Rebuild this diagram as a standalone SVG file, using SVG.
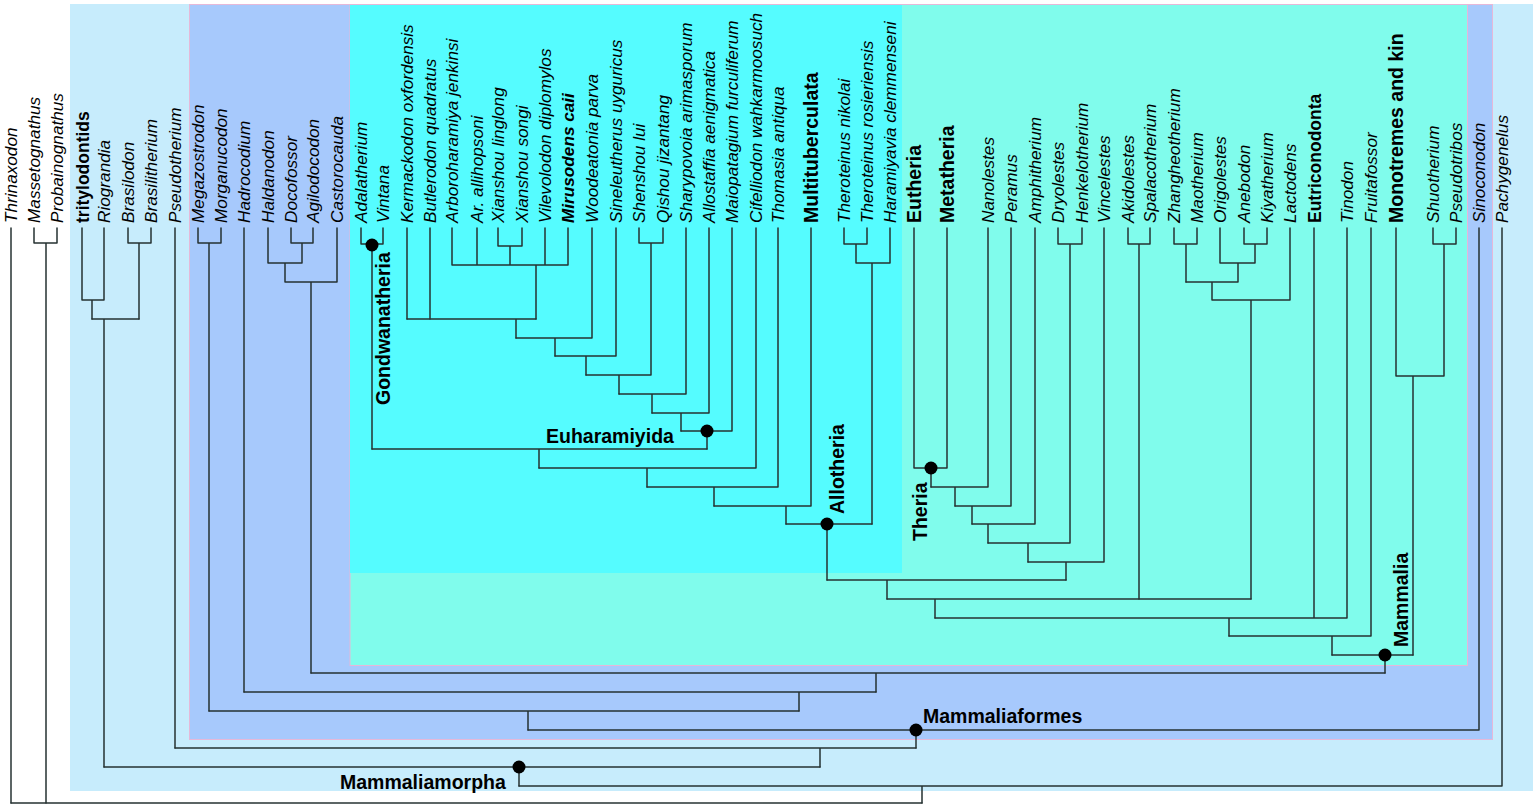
<svg xmlns="http://www.w3.org/2000/svg" width="1537" height="809" viewBox="0 0 1537 809">
<style>
text{font-family:"Liberation Sans",Arial,sans-serif;fill:#000}
.t{font-size:17.2px;font-style:italic}
.tb{font-size:17.5px;font-weight:bold}
.tB{font-size:19.5px;font-weight:bold}
.tbi{font-size:17.2px;font-weight:bold;font-style:italic}
.cl{font-size:19.5px;font-weight:bold}
.ln{fill:none;stroke:#263232;stroke-width:1.5;stroke-linejoin:round;stroke-linecap:round}
.dot{fill:#000}
</style>
<rect width="1537" height="809" fill="#ffffff"/>
<g id="backgrounds">
<rect id="bg-mammaliamorpha" x="70" y="4" width="1463" height="787" fill="#C7ECFC"/>
<rect id="bg-mammaliaformes" x="189.5" y="4.5" width="1303" height="735" fill="#A7C9FC" stroke="#E6B8D8" stroke-width="1"/>
<rect id="bg-mammalia" x="350" y="4.5" width="1117.5" height="661" fill="#80FCEC" stroke="#E6B8D8" stroke-width="1"/>
<rect id="bg-allotheria" x="350" y="5" width="552" height="568" fill="#55FCFF"/>
</g>
<g id="connectors" class="ln">
<path d="M11 228V803"/>
<path d="M34 228V243H57V228M46 243V803"/>
<path d="M82 228V300H104V228M92 300V319"/>
<path d="M128 228V243H151V228M139 243V319"/>
<path d="M92 319H139M104 319V767"/>
<path d="M175 228V748"/>
<path d="M198 228V243H221V228M209 243V711"/>
<path d="M244 228V692"/>
<path d="M268 228V263M291 228V243H313V228M302 243V263M268 263H302M285 263V282M337 228V282M285 282H337M311 282V673"/>
<path d="M361 228V244H383V228M372 244V449"/>
<path d="M407 228V319M430 228V319"/>
<path d="M452 228V265M477 228V265M498 228V246H522V228M510 246V265M545 228V265M568 228V265M452 265H568M536 265V319"/>
<path d="M407 319H536M516 319V338"/>
<path d="M592 228V338M516 338H592M555 338V356"/>
<path d="M616 228V356M555 356H616M586 356V375"/>
<path d="M639 228V243H663V228M651 243V375M586 375H651M619 375V394"/>
<path d="M686 228V394M619 394H686M652 394V413"/>
<path d="M709 228V413M652 413H709M681 413V431"/>
<path d="M732 228V431M681 431H732M707 431V449"/>
<path d="M372 449H707M539 449V468"/>
<path d="M756 228V468M539 468H756M647 468V487"/>
<path d="M778 228V487M647 487H778M714 487V506"/>
<path d="M811 228V506M714 506H811M786 506V524"/>
<path d="M844 228V244H867V228M856 244V263M890 228V263M856 263H890M872 263V524"/>
<path d="M786 524H872M827 524V580"/>
<path d="M914 228V468M947 228V468M914 468H947M931 468V487"/>
<path d="M988 228V487M931 487H988M955 487V506"/>
<path d="M1011 228V506M955 506H1011M972 506V524"/>
<path d="M1035 228V524M972 524H1035M988 524V543"/>
<path d="M1058 228V244H1082V228M1070 244V543M988 543H1070M1028 543V562"/>
<path d="M1104 228V562M1028 562H1104M1066 562V580"/>
<path d="M827 580H1066M887 580V599"/>
<path d="M1128 228V244H1150V228M1139 244V599"/>
<path d="M1174 228V244H1197V228M1186 244V282"/>
<path d="M1220 228V263M1244 228V244H1267V228M1255 244V263M1220 263H1255M1238 263V282M1186 282H1238M1212 282V300M1290 228V300M1212 300H1290M1251 300V599"/>
<path d="M887 599H1251M935 599V618"/>
<path d="M1314 228V618M1347 228V618M935 618H1347M1229 618V636"/>
<path d="M1371 228V636M1229 636H1371M1332 636V655"/>
<path d="M1396 228V376M1433 228V244H1456V228M1444 244V376M1396 376H1444M1413 376V655"/>
<path d="M1332 655H1413M1385 655V673"/>
<path d="M311 673H1385M876 673V692"/>
<path d="M244 692H876M799 692V711"/>
<path d="M209 711H799M528 711V730"/>
<path d="M1479 228V730M528 730H1479M916 730V748"/>
<path d="M175 748H916M820 748V767"/>
<path d="M104 767H820M519 767V786"/>
<path d="M1502 228V786M519 786H1502M922 786V803"/>
<path d="M11 803H922"/>
</g>
<g id="taxa">
<g id="n-thrinaxodon"><text class="t" transform="translate(17,223) rotate(-90)">Thrinaxodon</text></g>
<g id="n-massetognathus"><text class="t" transform="translate(40,223) rotate(-90)">Massetognathus</text></g>
<g id="n-probainognathus"><text class="t" transform="translate(63,223) rotate(-90)">Probainognathus</text></g>
<g id="n-tritylodontids"><text class="tb" transform="translate(89,223) rotate(-90)">tritylodontids</text></g>
<g id="n-riograndia"><text class="t" transform="translate(110,223) rotate(-90)">Riograndia</text></g>
<g id="n-brasilodon"><text class="t" transform="translate(134,223) rotate(-90)">Brasilodon</text></g>
<g id="n-brasilitherium"><text class="t" transform="translate(157,223) rotate(-90)">Brasilitherium</text></g>
<g id="n-pseudotherium"><text class="t" transform="translate(181,223) rotate(-90)">Pseudotherium</text></g>
<g id="n-megazostrodon"><text class="t" transform="translate(204,223) rotate(-90)">Megazostrodon</text></g>
<g id="n-morganucodon"><text class="t" transform="translate(227,223) rotate(-90)">Morganucodon</text></g>
<g id="n-hadrocodium"><text class="t" transform="translate(250,223) rotate(-90)">Hadrocodium</text></g>
<g id="n-haldanodon"><text class="t" transform="translate(274,223) rotate(-90)">Haldanodon</text></g>
<g id="n-docofossor"><text class="t" transform="translate(297,223) rotate(-90)">Docofossor</text></g>
<g id="n-agilodocodon"><text class="t" transform="translate(319,223) rotate(-90)">Agilodocodon</text></g>
<g id="n-castorocauda"><text class="t" transform="translate(343,223) rotate(-90)">Castorocauda</text></g>
<g id="n-adalatherium"><text class="t" transform="translate(367,223) rotate(-90)">Adalatherium</text></g>
<g id="n-vintana"><text class="t" transform="translate(389,223) rotate(-90)">Vintana</text></g>
<g id="n-kermackodon"><text class="t" transform="translate(413,223) rotate(-90)">Kermackodon oxfordensis</text></g>
<g id="n-butlerodon"><text class="t" transform="translate(436,223) rotate(-90)">Butlerodon quadratus</text></g>
<g id="n-arboroharamiya"><text class="t" transform="translate(458,223) rotate(-90)">Arboroharamiya jenkinsi</text></g>
<g id="n-allihopsoni"><text class="t" transform="translate(483,223) rotate(-90)">Ar. allihopsoni</text></g>
<g id="n-xianshou-linglong"><text class="t" transform="translate(504,223) rotate(-90)">Xianshou linglong</text></g>
<g id="n-xianshou-songi"><text class="t" transform="translate(528,223) rotate(-90)">Xianshou songi</text></g>
<g id="n-vilevolodon"><text class="t" transform="translate(551,223) rotate(-90)">Vilevolodon diplomylos</text></g>
<g id="n-mirusodens"><text class="tbi" transform="translate(574,223) rotate(-90)">Mirusodens caii</text></g>
<g id="n-woodeatonia"><text class="t" transform="translate(598,223) rotate(-90)">Woodeatonia  parva</text></g>
<g id="n-sineleutherus"><text class="t" transform="translate(622,223) rotate(-90)">Sineleutherus uyguricus</text></g>
<g id="n-shenshou"><text class="t" transform="translate(645,223) rotate(-90)">Shenshou lui</text></g>
<g id="n-qishou"><text class="t" transform="translate(669,223) rotate(-90)">Qishou jizantang</text></g>
<g id="n-sharypovoia"><text class="t" transform="translate(692,223) rotate(-90)">Sharypovoia arimasporum</text></g>
<g id="n-allostaffia"><text class="t" transform="translate(715,223) rotate(-90)">Allostaffia aenigmatica</text></g>
<g id="n-maiopatagium"><text class="t" transform="translate(738,223) rotate(-90)">Maiopatagium furculiferum</text></g>
<g id="n-cifelliodon"><text class="t" transform="translate(762,223) rotate(-90)">Cifelliodon wahkarmoosuch</text></g>
<g id="n-thomasia"><text class="t" transform="translate(784,223) rotate(-90)">Thomasia antiqua</text></g>
<g id="n-multituberculata"><text class="tB" transform="translate(818,223) rotate(-90)">Multituberculata</text></g>
<g id="n-theroteinus-nikolai"><text class="t" transform="translate(850,223) rotate(-90)">Theroteinus nikolai</text></g>
<g id="n-theroteinus-rosieriensis"><text class="t" transform="translate(873,223) rotate(-90)">Theroteinus rosieriensis</text></g>
<g id="n-haramiyavia"><text class="t" transform="translate(896,223) rotate(-90)">Haramiyavia clemmenseni</text></g>
<g id="n-eutheria"><text class="tB" transform="translate(921,223) rotate(-90)">Eutheria</text></g>
<g id="n-metatheria"><text class="tB" transform="translate(954,223) rotate(-90)">Metatheria</text></g>
<g id="n-nanolestes"><text class="t" transform="translate(994,223) rotate(-90)">Nanolestes</text></g>
<g id="n-peramus"><text class="t" transform="translate(1017,223) rotate(-90)">Peramus</text></g>
<g id="n-amphitherium"><text class="t" transform="translate(1041,223) rotate(-90)">Amphitherium</text></g>
<g id="n-dryolestes"><text class="t" transform="translate(1064,223) rotate(-90)">Dryolestes</text></g>
<g id="n-henkelotherium"><text class="t" transform="translate(1088,223) rotate(-90)">Henkelotherium</text></g>
<g id="n-vincelestes"><text class="t" transform="translate(1110,223) rotate(-90)">Vincelestes</text></g>
<g id="n-akidolestes"><text class="t" transform="translate(1134,223) rotate(-90)">Akidolestes</text></g>
<g id="n-spalacotherium"><text class="t" transform="translate(1156,223) rotate(-90)">Spalacotherium</text></g>
<g id="n-zhangheotherium"><text class="t" transform="translate(1180,223) rotate(-90)">Zhangheotherium</text></g>
<g id="n-maotherium"><text class="t" transform="translate(1203,223) rotate(-90)">Maotherium</text></g>
<g id="n-origolestes"><text class="t" transform="translate(1226,223) rotate(-90)">Origolestes</text></g>
<g id="n-anebodon"><text class="t" transform="translate(1250,223) rotate(-90)">Anebodon</text></g>
<g id="n-kiyatherium"><text class="t" transform="translate(1273,223) rotate(-90)">Kiyatherium</text></g>
<g id="n-lactodens"><text class="t" transform="translate(1296,223) rotate(-90)">Lactodens</text></g>
<g id="n-eutriconodonta"><text class="tb" transform="translate(1321,223) rotate(-90)">Eutriconodonta</text></g>
<g id="n-tinodon"><text class="t" transform="translate(1353,223) rotate(-90)">Tinodon</text></g>
<g id="n-fruitafossor"><text class="t" transform="translate(1377,223) rotate(-90)">Fruitafossor</text></g>
<g id="n-monotremes"><text class="tB" transform="translate(1403,223) rotate(-90)">Monotremes and kin</text></g>
<g id="n-shuotherium"><text class="t" transform="translate(1439,223) rotate(-90)">Shuotherium</text></g>
<g id="n-pseudotribos"><text class="t" transform="translate(1462,223) rotate(-90)">Pseudotribos</text></g>
<g id="n-sinoconodon"><text class="t" transform="translate(1485,223) rotate(-90)">Sinoconodon</text></g>
<g id="n-pachygenelus"><text class="t" transform="translate(1508,223) rotate(-90)">Pachygenelus</text></g>
</g>
<g id="clades">
<g id="c-gondwanatheria"><circle class="dot" cx="372" cy="245" r="6.5"/><text class="cl" transform="translate(390,405) rotate(-90)">Gondwanatheria</text></g>
<g id="c-euharamiyida"><circle class="dot" cx="707" cy="431" r="6.5"/><text class="cl" x="546" y="443">Euharamiyida</text></g>
<g id="c-allotheria"><circle class="dot" cx="827" cy="524" r="6.5"/><text class="cl" transform="translate(844,514) rotate(-90)">Allotheria</text></g>
<g id="c-theria"><circle class="dot" cx="931" cy="468" r="6.5"/><text class="cl" transform="translate(927,541) rotate(-90)">Theria</text></g>
<g id="c-mammalia"><circle class="dot" cx="1385" cy="655" r="6.5"/><text class="cl" transform="translate(1408,647) rotate(-90)">Mammalia</text></g>
<g id="c-mammaliaformes"><circle class="dot" cx="916" cy="730" r="6.5"/><text class="cl" x="923" y="723">Mammaliaformes</text></g>
<g id="c-mammaliamorpha"><circle class="dot" cx="519" cy="767" r="6.5"/><text class="cl" x="340" y="789">Mammaliamorpha</text></g>
</g>
</svg>
